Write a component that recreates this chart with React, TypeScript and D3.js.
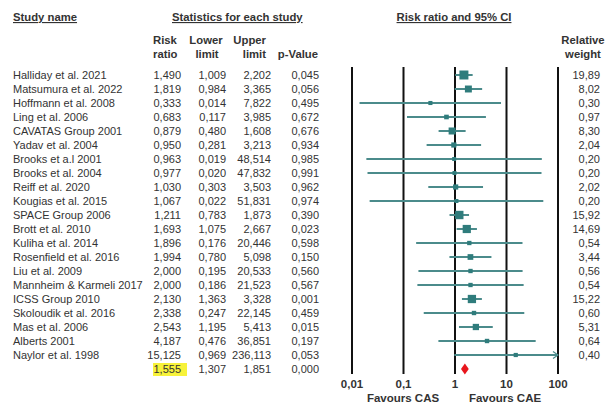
import React from 'react';
import * as d3 from 'd3';

const studies = [
  'Halliday et al. 2021', 'Matsumura et al. 2022', 'Hoffmann et al. 2008', 'Ling et al. 2006',
  'CAVATAS Group 2001', 'Yadav et al. 2004', 'Brooks et a.l 2001', 'Brooks et al. 2004',
  'Reiff et al. 2020', 'Kougias et al. 2015', 'SPACE Group 2006', 'Brott et al. 2010',
  'Kuliha et al. 2014', 'Rosenfield et al. 2016', 'Liu et al. 2009', 'Mannheim & Karmeli 2017',
  'ICSS Group 2010', 'Skoloudik et al. 2016', 'Mas et al. 2006', 'Alberts 2001', 'Naylor et al. 1998',
];
const riskRatio = [1.49, 1.819, 0.333, 0.683, 0.879, 0.95, 0.963, 0.977, 1.03, 1.067, 1.211, 1.693, 1.896, 1.994, 2.0, 2.0, 2.13, 2.338, 2.543, 4.187, 15.125];
const lowerLimit = [1.009, 0.984, 0.014, 0.117, 0.48, 0.281, 0.019, 0.02, 0.303, 0.022, 0.783, 1.075, 0.176, 0.78, 0.195, 0.186, 1.363, 0.247, 1.195, 0.476, 0.969];
const upperLimit = [2.202, 3.365, 7.822, 3.985, 1.608, 3.213, 48.514, 47.832, 3.503, 51.831, 1.873, 2.667, 20.446, 5.098, 20.533, 21.523, 3.328, 22.145, 5.413, 36.851, 236.113];
const pValue = [0.045, 0.056, 0.495, 0.672, 0.676, 0.934, 0.985, 0.991, 0.962, 0.974, 0.39, 0.023, 0.598, 0.15, 0.56, 0.567, 0.001, 0.459, 0.015, 0.197, 0.053];
const relWeight = [19.89, 8.02, 0.3, 0.97, 8.3, 2.04, 0.2, 0.2, 2.02, 0.2, 15.92, 14.69, 0.54, 3.44, 0.56, 0.54, 15.22, 0.6, 5.31, 0.64, 0.4];

const summary = { rr: 1.555, lower: 1.307, upper: 1.851, p: 0.0 };

const tickValues = [0.01, 0.1, 1, 10, 100];
const tickLabels = ['0,01', '0,1', '1', '10', '100'];

const W = 609;
const H = 406;
const FONT = 'Liberation Sans, Arial, sans-serif';
const TXT = '#333';
const LINE = '#4b8b8b';
const BOX = '#2f7c7c';

const f3 = (v: number) => d3.format('.3f')(v).replace('.', ',');
const f2 = (v: number) => d3.format('.2f')(v).replace('.', ',');

export default function App() {
  const x = d3.scaleLog().domain([0.01, 100]).range([352, 558]);
  const y = d3.scaleLinear().domain([0, studies.length]).range([75, 75 + 14 * studies.length]);
  const box = d3.scaleSqrt().domain([0, 20]).range([3.4, 9]);
  const [xMin, xMax] = x.domain();

  const numCols = [
    { right: 181, vals: riskRatio, fmt: f3 },
    { right: 226, vals: lowerLimit, fmt: f3 },
    { right: 271, vals: upperLimit, fmt: f3 },
    { right: 319, vals: pValue, fmt: f3 },
    { right: 600, vals: relWeight, fmt: f2 },
  ];

  const sy = y(studies.length);
  const dx0 = x(summary.lower), dx1 = x(summary.upper), dxc = x(summary.rr);

  return (
    <svg width={W} height={H} style={{ position: 'absolute', left: 0, top: 0, background: '#fff' }}
      fontFamily={FONT}>
      {/* headers */}
      <g fontWeight="bold" fontSize={11.3} fill={TXT}>
        <text x={13} y={21} textDecoration="underline">Study name</text>
        <text x={172} y={21} textDecoration="underline">Statistics for each study</text>
        <text x={454} y={21} textAnchor="middle" textDecoration="underline">Risk ratio and 95% CI</text>
        <text x={153} y={44}>Risk</text>
        <text x={153} y={58}>ratio</text>
        <text x={206} y={44} textAnchor="middle">Lower</text>
        <text x={207} y={58} textAnchor="middle">limit</text>
        <text x={266} y={44} textAnchor="end">Upper</text>
        <text x={266} y={58} textAnchor="end">limit</text>
        <text x={318} y={58} textAnchor="end">p-Value</text>
        <text x={583} y={44} textAnchor="middle">Relative</text>
        <text x={583} y={58} textAnchor="middle">weight</text>
      </g>

      {/* study names and numbers */}
      <g fontSize={11} fill={TXT}>
        {studies.map((s, i) => (
          <text key={s} x={13} y={y(i) + 4}>{s}</text>
        ))}
        {numCols.map((c, ci) => c.vals.map((v, i) => (
          <text key={ci + '-' + i} x={c.right} y={y(i) + 4} textAnchor="end">{c.fmt(v)}</text>
        )))}
        <rect x={153} y={sy - 6} width={34} height={13} fill="#f7f23a" />
        {[summary.rr, summary.lower, summary.upper, summary.p].map((v, k) => (
          <text key={'s' + k} x={numCols[k].right} y={sy + 4} textAnchor="end">{f3(v)}</text>
        ))}
      </g>

      {/* reference lines */}
      {tickValues.map(t => (
        <line key={t} x1={x(t)} x2={x(t)} y1={67} y2={374} stroke="#111" strokeWidth={2} />
      ))}

      {/* study estimates */}
      {studies.map((s, i) => {
        const cy = y(i);
        const hi = Math.min(upperLimit[i], xMax);
        const lo = Math.max(lowerLimit[i], xMin);
        const side = box(relWeight[i]);
        return (
          <g key={'m' + s}>
            <line x1={x(lo)} x2={x(hi)} y1={cy} y2={cy} stroke={LINE} strokeWidth={2} />
            {upperLimit[i] > xMax && (
              <path d={`M${x(hi) - 5},${cy - 3.5}L${x(hi)},${cy}L${x(hi) - 5},${cy + 3.5}`}
                fill="none" stroke={LINE} strokeWidth={1.2} />
            )}
            <rect x={x(riskRatio[i]) - side / 2} y={cy - side / 2} width={side} height={side} fill={BOX} />
          </g>
        );
      })}

      {/* pooled estimate */}
      <path d={`M${dx0},${sy}L${dxc},${sy - 5.5}L${dx1},${sy}L${dxc},${sy + 5.5}Z`} fill="#e8161c" />

      {/* axis labels */}
      <g fontWeight="bold" fontSize={11.5} fill={TXT} textAnchor="middle">
        {tickValues.map((t, k) => (
          <text key={'t' + t} x={x(t)} y={388}>{tickLabels[k]}</text>
        ))}
        <text x={403} y={402}>Favours CAS</text>
        <text x={505} y={402}>Favours CAE</text>
      </g>
    </svg>
  );
}
